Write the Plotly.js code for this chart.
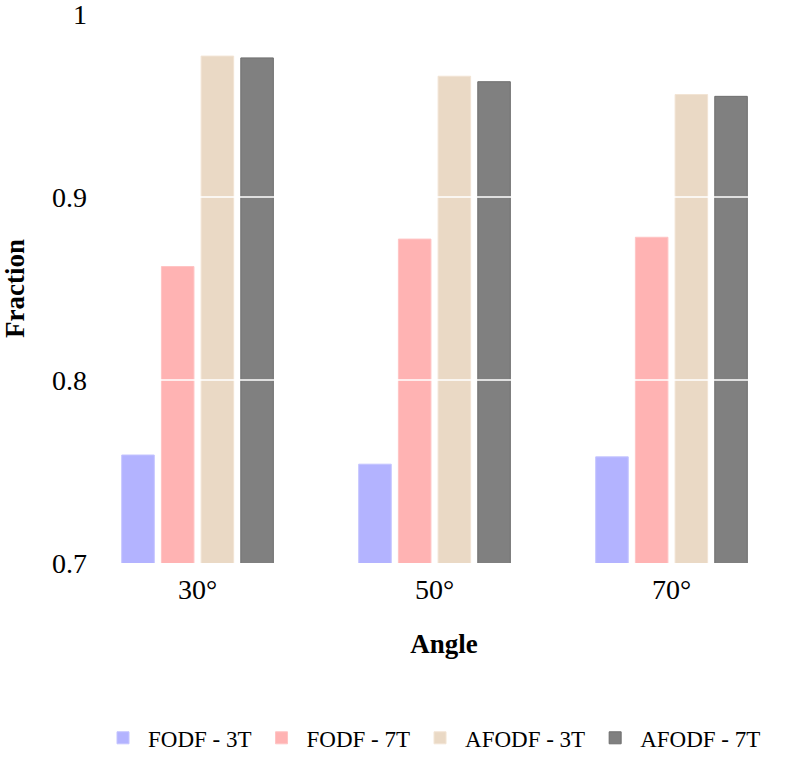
<!DOCTYPE html>
<html>
<head>
<meta charset="utf-8">
<script src="https://cdn.plot.ly/plotly-3.0.1.min.js"></script>
<style>
  html, body { margin: 0; padding: 0; background: #fff; }
  #chart { width: 800px; height: 767px; }
</style>
</head>
<body>
<div id="chart"></div>
<script>
// Values.
const angles = ["30°", "50°", "70°"];
const seriesNames = ["FODF - 3T", "FODF - 7T", "AFODF - 3T", "AFODF - 7T"];
const fodf3T = [0.759, 0.754, 0.758];
const fodf7T = [0.862, 0.877, 0.878];
const afodf3T = [0.977, 0.966, 0.956];
const afodf7T = [0.976, 0.963, 0.955];
const yTicks = [0.7, 0.8, 0.9, 1];
const yTickText = ["0.7", "0.8", "0.9", "1"];

const colors = ["#b3b3ff", "#ffb3b3", "#ead9c5", "#808080"];
const edges = ["#c4c4ff", "#ffc4c4", "#f2e4d4", "#6e6e6e"];
const serif = "Liberation Serif, Times New Roman, serif";

const traces = [fodf3T, fodf7T, afodf3T, afodf7T].map((vals, i) => ({
  type: "bar",
  x: angles,
  y: vals,
  name: seriesNames[i],
  marker: { color: colors[i], line: { color: edges[i], width: 1 } },
  hoverinfo: "x+y+name"
}));

// The grid shows as white lines on top of the bars.
const gridShapes = yTicks.slice(1, -1).map(v => ({
  type: "line",
  xref: "paper", x0: 0, x1: 1,
  yref: "y", y0: v, y1: v,
  layer: "above",
  line: { color: "#ffffff", width: 1.5 }
}));

const layout = {
  width: 800,
  height: 767,
  margin: { l: 98, r: 10, t: 14, b: 204 },
  paper_bgcolor: "#ffffff",
  plot_bgcolor: "#ffffff",
  font: { family: serif, color: "#000000" },
  barmode: "group",
  bargap: 0.33,
  bargroupgap: 0.18,
  showlegend: true,
  xaxis: {
    range: [-0.42, 2.5],
    showgrid: false,
    zeroline: false,
    showline: false,
    ticks: "",
    tickfont: { size: 28, family: serif },
    ticklabelstandoff: 7,
    title: { text: "<b>Angle</b>", font: { size: 27, family: serif }, standoff: 30 }
  },
  yaxis: {
    range: [0.7, 1.0],
    tickvals: yTicks,
    ticktext: yTickText,
    showgrid: false,
    zeroline: false,
    showline: false,
    ticks: "",
    ticklabeloverflow: "allow",
    tickfont: { size: 28, family: serif },
    ticklabelstandoff: 10,
    title: { text: "<b>Fraction</b>", font: { size: 27, family: serif }, standoff: 22 }
  },
  shapes: gridShapes,
  legend: {
    orientation: "h",
    xref: "container",
    yref: "container",
    x: 0.54,
    xanchor: "center",
    y: 0.038,
    yanchor: "middle",
    font: { size: 23, family: serif },
    itemwidth: 40,
    tracegroupgap: 0
  }
};

Plotly.newPlot("chart", traces, layout, { displayModeBar: false, responsive: false });
</script>
</body>
</html>
